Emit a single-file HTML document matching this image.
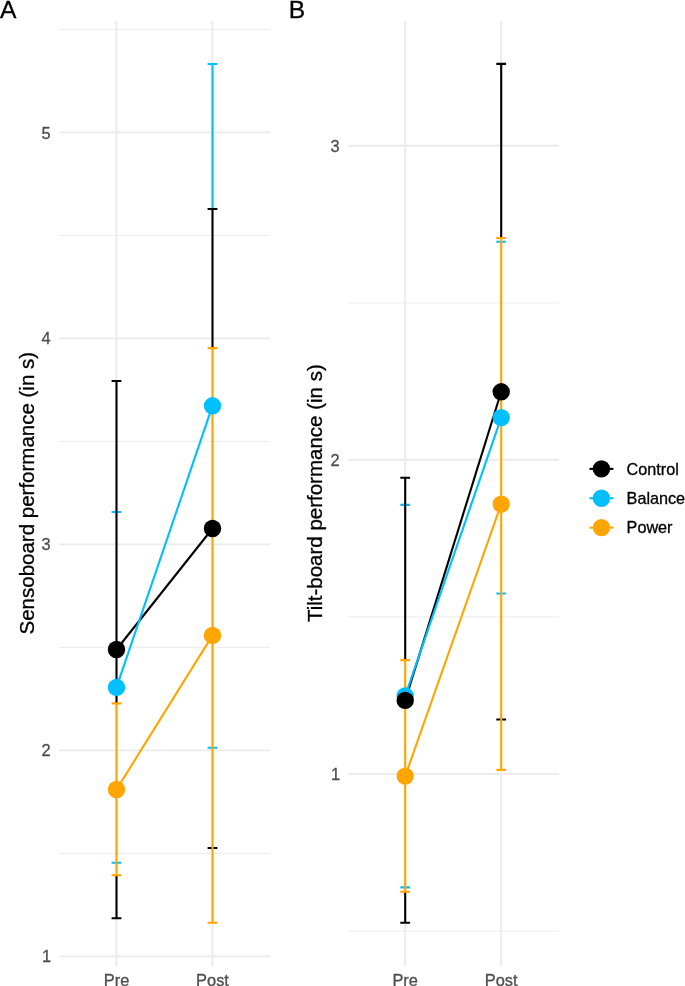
<!DOCTYPE html>
<html lang="en"><head><meta charset="utf-8"><title>Figure</title>
<style>
html,body{margin:0;padding:0;background:#fff}
body{width:685px;height:986px;overflow:hidden}
svg{display:block}
text{font-family:"Liberation Sans",Arial,Helvetica,sans-serif}
.tk{font-size:16.4px;fill:#4D4D4D;stroke:#4D4D4D;stroke-width:.3px}
.ti{font-size:20.5px;fill:#000;stroke:#000;stroke-width:.3px}
.tg{font-size:24.6px;fill:#000;stroke:#000;stroke-width:.3px}
.lg{font-size:16.2px;fill:#000;stroke:#000;stroke-width:.3px}
</style></head><body>
<svg width="685" height="986" viewBox="0 0 685 986">
<rect width="685" height="986" fill="#fff"/>
<line x1="59" x2="270" y1="29.35" y2="29.35" stroke="#EBEBEB" stroke-width="0.97"/>
<line x1="59" x2="270" y1="235.35" y2="235.35" stroke="#EBEBEB" stroke-width="0.97"/>
<line x1="59" x2="270" y1="441.35" y2="441.35" stroke="#EBEBEB" stroke-width="0.97"/>
<line x1="59" x2="270" y1="647.4" y2="647.4" stroke="#EBEBEB" stroke-width="0.97"/>
<line x1="59" x2="270" y1="853.4" y2="853.4" stroke="#EBEBEB" stroke-width="0.97"/>
<line x1="59" x2="270" y1="132.35" y2="132.35" stroke="#EBEBEB" stroke-width="1.94"/>
<line x1="59" x2="270" y1="338.35" y2="338.35" stroke="#EBEBEB" stroke-width="1.94"/>
<line x1="59" x2="270" y1="544.35" y2="544.35" stroke="#EBEBEB" stroke-width="1.94"/>
<line x1="59" x2="270" y1="750.4" y2="750.4" stroke="#EBEBEB" stroke-width="1.94"/>
<line x1="59" x2="270" y1="956.35" y2="956.35" stroke="#EBEBEB" stroke-width="1.94"/>
<line x1="116.5" x2="116.5" y1="21" y2="966.2" stroke="#EBEBEB" stroke-width="1.94"/>
<line x1="212.5" x2="212.5" y1="21" y2="966.2" stroke="#EBEBEB" stroke-width="1.94"/>
<path d="M111.6 512H121.4M111.6 862.7H121.4" fill="none" stroke="#00BFFF" stroke-width="2.1"/>
<path d="M207.6 64H217.4M207.6 747.7H217.4M212.5 64V209" fill="none" stroke="#00BFFF" stroke-width="2.1"/>
<path d="M111.6 381H121.4M111.6 918.3H121.4M116.5 381V703.4M116.5 875.3V918.3" fill="none" stroke="#000000" stroke-width="2.1"/>
<path d="M207.6 209H217.4M207.6 848H217.4M212.5 209V348.1" fill="none" stroke="#000000" stroke-width="2.1"/>
<path d="M111.6 703.4H121.4M111.6 875.3H121.4M116.5 703.4V875.3" fill="none" stroke="#FFA500" stroke-width="2.1"/>
<path d="M207.6 348.1H217.4M207.6 922.7H217.4M212.5 348.1V922.7" fill="none" stroke="#FFA500" stroke-width="2.1"/>
<line x1="116.5" y1="649.5" x2="212.5" y2="528.5" stroke="#000000" stroke-width="2.1"/>
<line x1="116.5" y1="687.4" x2="212.5" y2="405.8" stroke="#00BFFF" stroke-width="2.1"/>
<line x1="116.5" y1="789.5" x2="212.5" y2="635.4" stroke="#FFA500" stroke-width="2.1"/>
<circle cx="116.5" cy="687.4" r="8.7" fill="#00BFFF"/>
<circle cx="212.5" cy="405.8" r="8.7" fill="#00BFFF"/>
<circle cx="116.5" cy="649.5" r="8.7" fill="#000000"/>
<circle cx="212.5" cy="528.5" r="8.7" fill="#000000"/>
<circle cx="116.5" cy="789.5" r="8.7" fill="#FFA500"/>
<circle cx="212.5" cy="635.4" r="8.7" fill="#FFA500"/>
<text class="tk" x="50.6" y="138.75" text-anchor="end">5</text>
<text class="tk" x="50.6" y="344.15" text-anchor="end">4</text>
<text class="tk" x="50.6" y="550.45" text-anchor="end">3</text>
<text class="tk" x="50.6" y="756.2" text-anchor="end">2</text>
<text class="tk" x="51.2" y="962.05" text-anchor="end">1</text>
<text class="tk" x="116.5" y="985.5" text-anchor="middle">Pre</text>
<text class="tk" x="212.5" y="985.5" text-anchor="middle">Post</text>
<text class="ti" transform="translate(33.5 493.2) rotate(-90)" text-anchor="middle">Sensoboard performance (in s)</text>
<text class="tg" x="0" y="17.9">A</text>
<line x1="348" x2="559" y1="302.9" y2="302.9" stroke="#EBEBEB" stroke-width="0.97"/>
<line x1="348" x2="559" y1="616.9" y2="616.9" stroke="#EBEBEB" stroke-width="0.97"/>
<line x1="348" x2="559" y1="931.1" y2="931.1" stroke="#EBEBEB" stroke-width="0.97"/>
<line x1="348" x2="559" y1="145.8" y2="145.8" stroke="#EBEBEB" stroke-width="1.94"/>
<line x1="348" x2="559" y1="459.8" y2="459.8" stroke="#EBEBEB" stroke-width="1.94"/>
<line x1="348" x2="559" y1="773.9" y2="773.9" stroke="#EBEBEB" stroke-width="1.94"/>
<line x1="405.2" x2="405.2" y1="21" y2="966.2" stroke="#EBEBEB" stroke-width="1.94"/>
<line x1="501.2" x2="501.2" y1="21" y2="966.2" stroke="#EBEBEB" stroke-width="1.94"/>
<path d="M400.3 504.9H410.09999999999997M400.3 887.4H410.09999999999997" fill="none" stroke="#00BFFF" stroke-width="2.1"/>
<path d="M496.3 241.8H506.09999999999997M496.3 593.5H506.09999999999997" fill="none" stroke="#00BFFF" stroke-width="2.1"/>
<path d="M400.3 477.8H410.09999999999997M400.3 922.8H410.09999999999997M405.2 477.8V660.1M405.2 891.8V922.8" fill="none" stroke="#000000" stroke-width="2.1"/>
<path d="M496.3 63.9H506.09999999999997M496.3 719.5H506.09999999999997M501.2 63.9V238" fill="none" stroke="#000000" stroke-width="2.1"/>
<path d="M400.3 660.1H410.09999999999997M400.3 891.8H410.09999999999997M405.2 660.1V891.8" fill="none" stroke="#FFA500" stroke-width="2.1"/>
<path d="M496.3 238H506.09999999999997M496.3 769.9H506.09999999999997M501.2 238V769.9" fill="none" stroke="#FFA500" stroke-width="2.1"/>
<line x1="405.2" y1="700.4" x2="501.2" y2="391.8" stroke="#000000" stroke-width="2.1"/>
<line x1="405.2" y1="695.9" x2="501.2" y2="417.6" stroke="#00BFFF" stroke-width="2.1"/>
<line x1="405.2" y1="776.1" x2="501.2" y2="504.1" stroke="#FFA500" stroke-width="2.1"/>
<circle cx="405.2" cy="695.9" r="8.7" fill="#00BFFF"/>
<circle cx="501.2" cy="417.6" r="8.7" fill="#00BFFF"/>
<circle cx="405.2" cy="700.4" r="8.7" fill="#000000"/>
<circle cx="501.2" cy="391.8" r="8.7" fill="#000000"/>
<circle cx="405.2" cy="776.1" r="8.7" fill="#FFA500"/>
<circle cx="501.2" cy="504.1" r="8.7" fill="#FFA500"/>
<text class="tk" x="339.6" y="152.2" text-anchor="end">3</text>
<text class="tk" x="339.6" y="466.2" text-anchor="end">2</text>
<text class="tk" x="340.20000000000005" y="780.3" text-anchor="end">1</text>
<text class="tk" x="405.2" y="985.5" text-anchor="middle">Pre</text>
<text class="tk" x="501.2" y="985.5" text-anchor="middle">Post</text>
<text class="ti" transform="translate(322 493.2) rotate(-90)" text-anchor="middle">Tilt-board performance (in s)</text>
<text class="tg" x="288.8" y="17.9">B</text>
<line x1="589.5" x2="613.4" y1="468.9" y2="468.9" stroke="#000000" stroke-width="2.1"/>
<circle cx="601.45" cy="468.9" r="8.7" fill="#000000"/>
<text class="lg" x="626.6" y="474.59999999999997">Control</text>
<line x1="589.5" x2="613.4" y1="498.25" y2="498.25" stroke="#00BFFF" stroke-width="2.1"/>
<circle cx="601.45" cy="498.25" r="8.7" fill="#00BFFF"/>
<text class="lg" x="626.6" y="503.95">Balance</text>
<line x1="589.5" x2="613.4" y1="527.6" y2="527.6" stroke="#FFA500" stroke-width="2.1"/>
<circle cx="601.45" cy="527.6" r="8.7" fill="#FFA500"/>
<text class="lg" x="626.6" y="533.3000000000001">Power</text>
</svg></body></html>
